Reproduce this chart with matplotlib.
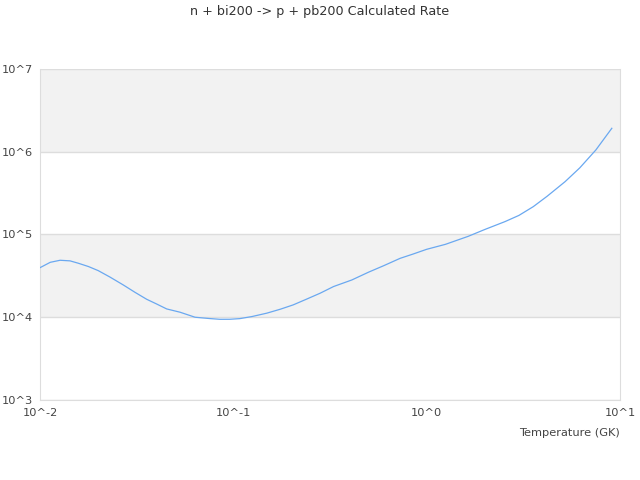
import numpy as np
import matplotlib.pyplot as plt

# temperature (GK) and rate
temps = [0.0100, 0.0113, 0.0127, 0.0143, 0.0158, 0.0178, 0.0200, 0.0230, 0.0270,
         0.0310, 0.0356, 0.0400, 0.0452, 0.0530, 0.0634, 0.0750, 0.0853, 0.0960,
         0.108, 0.125, 0.149, 0.175, 0.204, 0.240, 0.281, 0.330, 0.410, 0.500,
         0.600, 0.729, 0.850, 1.00, 1.25, 1.64, 2.00, 2.54, 3.00, 3.56, 4.20,
         5.20, 6.20, 7.50, 9.07]
rates = [39700, 46100, 48800, 48000, 44900, 41000, 36600, 30600, 24500,
         20000, 16500, 14500, 12600, 11500, 10000, 9650, 9440, 9450,
         9620, 10200, 11200, 12500, 14100, 16600, 19500, 23500, 28200, 35000,
         42000, 51500, 58000, 66200, 76000, 95000, 115000, 143000, 170000, 217000, 290000,
         435000, 640000, 1050000, 1920000]

ytick_vals = [1e3, 1e4, 1e5, 1e6, 1e7]
ytick_labels = ['10^3', '10^4', '10^5', '10^6', '10^7']
xtick_vals = [1e-2, 1e-1, 1e0, 1e1]
xtick_labels = ['10^-2', '10^-1', '10^0', '10^1']

fig = plt.figure(figsize=(6.4, 4.8), dpi=100)
ax = fig.add_axes([0.0625, 0.1667, 0.90625, 0.68958])

ax.set_xscale('log')
ax.set_yscale('log')
ax.set_xlim(1e-2, 1e1)
ax.set_ylim(1e3, 1e7)

# alternating bands
for lo, hi in [(1e4, 1e5), (1e6, 1e7)]:
    ax.axhspan(lo, hi, color='#f2f2f2', lw=0, zorder=0)
for v in ytick_vals:
    ax.axhline(v, color='#dddddd', lw=1, zorder=1)

ax.plot(temps, rates, color='#6aa8f0', lw=0.9, zorder=3)

ax.set_yticks(ytick_vals)
ax.set_yticklabels(ytick_labels)
ax.set_xticks(xtick_vals)
ax.set_xticklabels(xtick_labels)
ax.minorticks_off()
ax.tick_params(length=0, labelsize=8.2, colors='#444444', pad=6)
ax.tick_params(axis='y', pad=5)

for s in ax.spines.values():
    s.set_color('#dddddd')
ax.spines['top'].set_visible(False)

ax.set_xlabel('Temperature (GK)', fontsize=8.2, color='#444444', loc='right', labelpad=7)
fig.text(0.5, 0.975, 'n + bi200 -> p + pb200 Calculated Rate', ha='center', va='center',
         fontsize=9.2, color='#333333')

fig.savefig('out.png', dpi=100)
